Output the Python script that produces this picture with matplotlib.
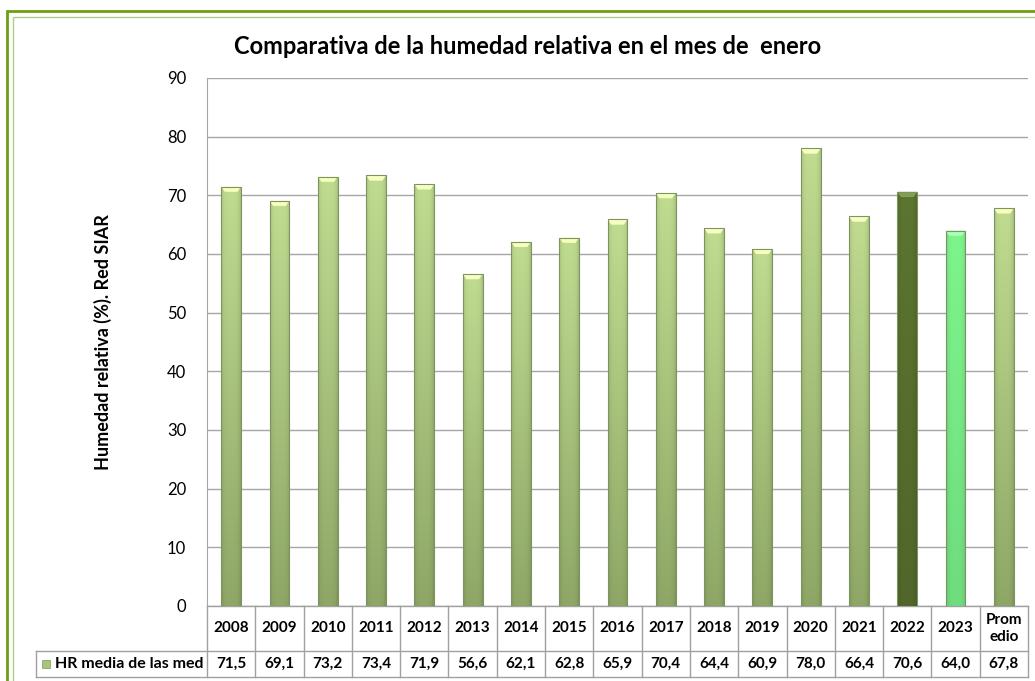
import numpy as np
import matplotlib
matplotlib.use('Agg')
import matplotlib.pyplot as plt
from matplotlib.patches import Rectangle, Polygon
from matplotlib.lines import Line2D
from matplotlib.colors import to_rgb

plt.rcParams['font.family'] = ['Lato', 'DejaVu Sans']

titulo = 'Comparativa de la humedad relativa en el mes de  enero'
eje_y = 'Humedad relativa (%). Red SIAR'
serie = 'HR media de las med'
categorias = ['2008', '2009', '2010', '2011', '2012', '2013', '2014', '2015',
              '2016', '2017', '2018', '2019', '2020', '2021', '2022', '2023',
              'Prom\nedio']
hr = [71.5, 69.1, 73.2, 73.4, 71.9, 56.6, 62.1, 62.8, 65.9, 70.4, 64.4,
      60.9, 78.0, 66.4, 70.6, 64.0, 67.8]

# colores (arriba, abajo) por barra
normal = ('#c0dc90', '#8ea766')
col_2022 = ('#5c7530', '#51662a')
col_2023 = ('#7ef58c', '#6fdc7e')
colores = [normal] * len(hr)
colores[categorias.index('2022')] = col_2022
colores[categorias.index('2023')] = col_2023

W, H = 1035, 681
fig = plt.figure(figsize=(W / 100, H / 100), dpi=100)
ax = fig.add_axes([207 / W, 1 - 606 / H, (1028 - 207) / W, (606 - 78) / H])

x = np.arange(len(hr))
ancho = 0.41
barras = ax.bar(x, hr, ancho, color='none', edgecolor='#7d9460', linewidth=0.8, zorder=3)

ax.set_ylim(0, 90)
ax.set_xlim(-0.5, len(hr) - 0.5)
ax.set_yticks(np.arange(0, 91, 10))
ax.yaxis.grid(True, color='#a6a6a6', linewidth=1.0)
ax.set_axisbelow(True)
ax.set_xticks([])
ax.tick_params(axis='y', length=0, labelsize=12, pad=15)
for s in ['top', 'right', 'bottom']:
    ax.spines[s].set_visible(False)
ax.spines['left'].set_color('#a6a6a6')

# degradado en cada barra
for b, (c_top, c_bot) in zip(barras, colores):
    x0, w, h = b.get_x(), b.get_width(), b.get_height()
    t = np.linspace(0, 1, 200).reshape(-1, 1)
    u = np.linspace(-1, 1, 40).reshape(1, -1)
    top = np.array(to_rgb(c_top))
    bot = np.array(to_rgb(c_bot))
    img = bot + (top - bot) * t[..., None]
    sombra = 1 - 0.12 * np.abs(u) ** 4
    img = np.clip(img * sombra[..., None], 0, 1)
    im = ax.imshow(img, origin='lower', extent=[x0, x0 + w, 0, h],
                   aspect='auto', zorder=2.5, interpolation='bilinear')
    im.set_clip_path(b)
    # bisel superior
    ch = 0.9
    ins = w * 0.18
    cap = Polygon([[x0, h], [x0 + w, h], [x0 + w - ins, h - ch], [x0 + ins, h - ch]],
                  closed=True, facecolor=tuple(np.clip(top * 1.15 + 0.1, 0, 1)),
                  edgecolor='none', zorder=2.8)
    ax.add_patch(cap)
ax.set_xlim(-0.5, len(hr) - 0.5)
ax.set_ylim(0, 90)

ax.set_title(titulo, fontsize=17, fontweight='bold', pad=17, x=(528 - 207) / 821)
ax.text(-0.127, 0.5, eje_y, transform=ax.transAxes, rotation=90, ha='center',
        va='center', fontsize=13, fontweight='bold')

# tabla de datos
n = len(hr)
px_y = 1 / 528
px_x = 1 / 821
h1 = 45 * px_y
h2 = 26 * px_y
izq = (36 - 207) * px_x
gris = '#a0a0a0'
tr = ax.transAxes

def linea(xs, ys):
    ax.add_line(Line2D(xs, ys, transform=tr, color=gris, linewidth=1.0, clip_on=False))

linea([0, 1], [0, 0])
linea([izq, 1], [-h1, -h1])
linea([izq, 1], [-h1 - h2, -h1 - h2])
linea([izq, izq], [-h1, -h1 - h2])
for i in range(n + 1):
    linea([i / n, i / n], [0, -h1 - h2])

for i, (cat, v) in enumerate(zip(categorias, hr)):
    xc = (i + 0.5) / n
    ax.text(xc, -h1 / 2, cat, transform=tr, ha='center', va='center',
            fontsize=11, fontweight='bold', linespacing=1.3)
    ax.text(xc, -h1 - h2 / 2, f'{v:.1f}'.replace('.', ','), transform=tr,
            ha='center', va='center', fontsize=11, fontweight='bold')

ax.add_patch(Rectangle((izq + 6 * px_x, -h1 - h2 / 2 - 4 * px_y), 8 * px_x, 8 * px_y,
                       transform=tr, facecolor='#a8c47c', edgecolor='#8ea766',
                       linewidth=0.6, clip_on=False))
ax.text(izq + 19 * px_x, -h1 - h2 / 2, serie, transform=tr, ha='left', va='center',
        fontsize=11.5, fontweight='bold')

# marco verde
fig.patches.append(Rectangle((7 / W, -0.1), 1.2, 1 - 11 / H + 0.1, transform=fig.transFigure,
                             fill=False, edgecolor='#6e9e12', linewidth=2.0))
fig.patches.append(Rectangle((12.5 / W, -0.1), 1.2, 1 - 16.5 / H + 0.1, transform=fig.transFigure,
                             fill=False, edgecolor='#b2c98a', linewidth=1.0))

fig.savefig('out.png', dpi=100, facecolor='white')
